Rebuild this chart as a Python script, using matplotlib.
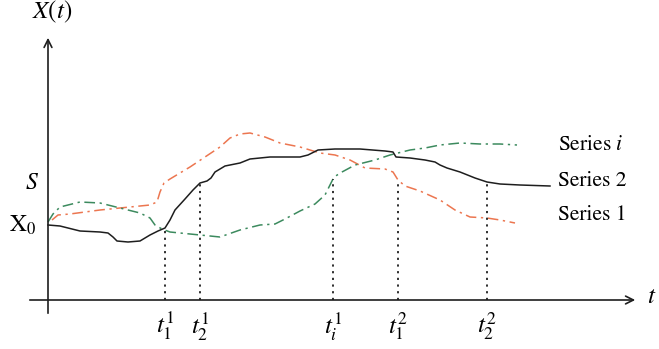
import matplotlib.pyplot as plt
import numpy as np

plt.rcParams["mathtext.fontset"] = "stix"
plt.rcParams["font.family"] = ["STIXGeneral", "DejaVu Serif"]

# series 2 (solid), series 1 and series i (dash-dot), as (t, X) samples
s2_t = [0, 12, 32, 52, 60, 65, 69, 80, 92, 102, 110, 117, 122, 127, 137, 145, 152, 159, 163, 167,
        177, 192, 202, 222, 252, 260, 270, 287, 312, 337, 345, 348, 362, 377, 387, 392, 399, 412,
        427, 439, 452, 472, 502]
s2_x = [75, 74, 69, 68, 67, 63, 59, 58, 59, 65, 69, 72, 80, 90, 101, 110, 117, 119, 122, 128,
        134, 137, 141, 143, 143, 145, 150, 151, 151, 149, 148, 143, 142, 140, 138, 135, 132, 128,
        122, 118, 116, 115, 114]

s1_t = [4, 10, 22, 52, 82, 102, 109, 112, 116, 122, 142, 157, 172, 182, 192, 202, 217, 232, 252,
        272, 287, 302, 317, 337, 345, 350, 357, 372, 392, 407, 422, 439, 452, 467]
s1_x = [80, 85, 86, 90, 93, 95, 98, 108, 117, 121, 133, 143, 153, 162, 166, 167, 163, 157, 153,
        147, 145, 140, 132, 131, 128, 120, 114, 109, 100, 90, 83, 82, 80, 77]

si_t = [0, 5, 12, 32, 52, 72, 92, 102, 107, 114, 122, 152, 172, 192, 212, 227, 237, 252, 267,
        277, 282, 286, 294, 307, 327, 342, 362, 377, 392, 412, 432, 452, 469]
si_x = [78, 86, 93, 98, 97, 92, 87, 82, 75, 71, 68, 65, 63, 70, 75, 76, 81, 89, 96, 105, 115,
        123, 128, 135, 140, 145, 150, 152, 155, 157, 156, 156, 155]

# marked times and which series each one drops from
tick_t = [117, 152, 285, 350, 439]
tick_src = ["s2", "s2", "si", "s1", "s2"]
tick_labels = [r"$t_1^1$", r"$t_2^1$", r"$t_i^1$", r"$t_1^2$", r"$t_2^2$"]

x0_level = 75
s_level = 117

series_labels = ["Series $i$", "Series 2", "Series 1"]
series_label_x = [155, 119, 85]

ORANGE = "#ec7650"
GREEN = "#3c8a5e"
BLACK = "#1e1e1e"

fig = plt.figure(figsize=(6.59, 3.49), dpi=100)
ax = fig.add_axes([0, 0, 1, 1])
ax.set_xlim(-48, 611)
ax.set_ylim(-49, 300)
ax.axis("off")

# axes with open arrow heads
ax.annotate("", xy=(0, 265), xytext=(0, -16),
            arrowprops=dict(arrowstyle="->", lw=1.2, color=BLACK, mutation_scale=14))
ax.annotate("", xy=(590, 0), xytext=(-21, 0),
            arrowprops=dict(arrowstyle="->", lw=1.2, color=BLACK, mutation_scale=14))

ax.plot(s1_t, s1_x, color=ORANGE, lw=1.1, dashes=(7, 3, 1.5, 3))
ax.plot(si_t, si_x, color=GREEN, lw=1.1, dashes=(7, 3, 1.5, 3))
ax.plot(s2_t, s2_x, color=BLACK, lw=1.1)

curves = {"s1": (s1_t, s1_x), "s2": (s2_t, s2_x), "si": (si_t, si_x)}
for t, src, lab in zip(tick_t, tick_src, tick_labels):
    top = np.interp(t, *curves[src])
    ax.plot([t, t], [0, top], color=BLACK, lw=1.3, linestyle=(0, (1.2, 2.5)))
    ax.text(t, -26, lab, ha="center", va="center", fontsize=18)

ax.text(4, 288, r"$X(t)$", ha="center", va="center", fontsize=18)
ax.text(604, 3, r"$t$", ha="center", va="center", fontsize=18)
ax.text(-16, s_level, r"$S$", ha="center", va="center", fontsize=17)
ax.text(-25, x0_level, r"$\mathrm{X}_0$", ha="center", va="center", fontsize=17)

for lab, y in zip(series_labels, series_label_x):
    ax.text(510, y, lab, ha="left", va="center", fontsize=15.5)

fig.savefig("out.png", dpi=100)
